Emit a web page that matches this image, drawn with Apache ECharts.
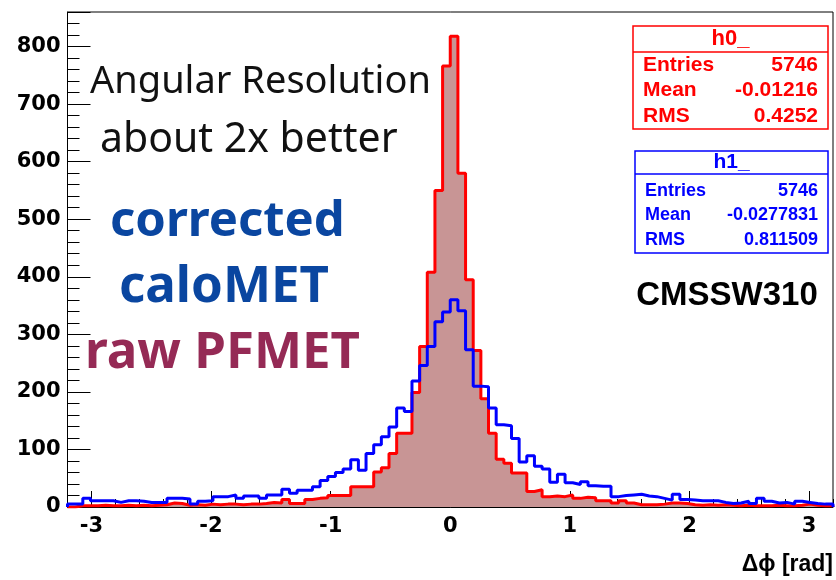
<!DOCTYPE html>
<html><head><meta charset="utf-8">
<script src="https://cdn.jsdelivr.net/npm/echarts@6/dist/echarts.min.js"></script>
<style>html,body{margin:0;padding:0;background:#fff;}#c{width:836px;height:580px;}</style>
</head><body><div id="c"></div>
<script>
// Histogram definition
const X_MIN = -3.2, X_MAX = 3.2, N_BINS = 100;
const Y_MAX = 860;
const xTickLabels = [-3, -2, -1, 0, 1, 2, 3];
const yTickLabels = [0, 100, 200, 300, 400, 500, 600, 700, 800];

// h0_ : raw PFMET (red, filled)
const h0 = [
  0, 2, 2, 2, 3, 2, 2, 3, 2, 3,
  2, 3, 4, 7, 6, 3, 4, 3, 5, 4,
  5, 5, 4, 5, 5, 6, 8, 7, 13, 6,
  6, 13, 15, 16, 20, 20, 20, 35, 35, 35,
  61, 68, 93, 128, 128, 199, 279, 408, 550, 766,
  818, 580, 395, 272, 188, 128, 83, 76, 59, 59,
  27, 30, 18, 19, 18, 21, 15, 17, 16, 11,
  11, 7, 11, 7, 4, 4, 4, 5, 7, 7,
  6, 4, 3, 4, 3, 4, 3, 2, 3, 2,
  2, 2, 3, 2, 2, 3, 5, 3, 2, 2
];
// h1_ : corrected caloMET (blue, outline)
const h1 = [
  5, 5, 15, 11, 11, 11, 8, 11, 11, 10,
  8, 8, 8, 15, 15, 14, 5, 10, 11, 18,
  18, 21, 15, 19, 19, 15, 21, 21, 31, 24,
  29, 29, 35, 46, 53, 60, 66, 82, 64, 93,
  108, 122, 139, 172, 166, 219, 246, 279, 322, 339,
  360, 341, 273, 210, 209, 172, 143, 141, 119, 78,
  89, 71, 66, 43, 57, 42, 39, 44, 37, 36,
  36, 18, 20, 21, 22, 19, 18, 15, 12, 22,
  13, 12, 11, 11, 11, 8, 6, 7, 10, 6,
  15, 10, 7, 8, 5, 10, 8, 6, 5, 5
];
const stats0 = {title: 'h0_', rows: [['Entries', '5746'], ['Mean', '-0.01216'], ['RMS', '0.4252']]};
const stats1 = {title: 'h1_', rows: [['Entries', '5746'], ['Mean', '-0.0277831'], ['RMS', '0.811509']]};

function stepData(vals) {
  const w = (X_MAX - X_MIN) / N_BINS;
  const pts = [[X_MIN, 0]];
  vals.forEach((v, i) => pts.push([X_MIN + i * w, v]));
  pts.push([X_MAX, vals[vals.length - 1]]);
  pts.push([X_MAX, 0]);
  return pts;
}

const PL = 67.5, PR = 833, W = 836;
const unit = (PR - PL) / (X_MAX - X_MIN);
const off = (xTickLabels[0] - X_MIN) * unit;
const tickFont = {fontFamily: 'DejaVu Sans', fontWeight: 'bold', fontSize: 21, color: '#000'};

function statsBox(s, x, y, w, h, sepY, rowYs, color, fs, titleFs) {
  const els = [
    {type: 'rect', shape: {x: x, y: y, width: w, height: h}, style: {fill: '#fff', stroke: color, lineWidth: 1.5}, z: 10},
    {type: 'line', shape: {x1: x, y1: sepY, x2: x + w, y2: sepY}, style: {stroke: color, lineWidth: 1.5}, z: 11},
    {type: 'text', x: x + w / 2, y: (y + sepY) / 2, style: {text: s.title, fill: color, font: 'bold ' + titleFs + 'px "Liberation Sans", Arial', textAlign: 'center', textVerticalAlign: 'middle'}, z: 11}
  ];
  s.rows.forEach((r, i) => {
    els.push({type: 'text', x: x + 10, y: rowYs[i], style: {text: r[0], fill: color, font: 'bold ' + fs + 'px "Liberation Sans", Arial', textAlign: 'left', textVerticalAlign: 'middle'}, z: 11});
    els.push({type: 'text', x: x + w - 10, y: rowYs[i], style: {text: r[1], fill: color, font: 'bold ' + fs + 'px "Liberation Sans", Arial', textAlign: 'right', textVerticalAlign: 'middle'}, z: 11});
  });
  return els;
}

const chart = echarts.init(document.getElementById('c'), null, {renderer: 'canvas'});
chart.setOption({
  animation: false,
  backgroundColor: '#fff',
  grid: [
    {left: PL, right: W - PR, top: 12, bottom: 73, show: true, borderColor: '#000', borderWidth: 1, backgroundColor: 'transparent'},
    {left: PL + off, right: W - PR + off, top: 12, bottom: 73, show: false}
  ],
  xAxis: [
    {type: 'value', gridIndex: 0, min: X_MIN, max: X_MAX, interval: 0.2, position: 'bottom',
     axisLine: {show: true, onZero: false, lineStyle: {color: '#000', width: 1}},
     axisTick: {show: true, inside: true, length: 8, lineStyle: {color: '#000'}},
     axisLabel: {show: false}, splitLine: {show: false}},
    {type: 'value', gridIndex: 1, min: xTickLabels[0], max: xTickLabels[xTickLabels.length - 1], interval: 1, position: 'bottom',
     axisLine: {show: false, onZero: false},
     axisTick: {show: true, inside: true, length: 16, lineStyle: {color: '#000'}},
     axisLabel: Object.assign({show: true, margin: 9, formatter: v => String(v)}, tickFont),
     splitLine: {show: false}}
  ],
  yAxis: [
    {type: 'value', gridIndex: 0, min: 0, max: Y_MAX, interval: 100, position: 'left',
     axisLine: {show: true, onZero: false, lineStyle: {color: '#000', width: 1}},
     axisTick: {show: true, inside: true, length: 23, lineStyle: {color: '#000'}},
     minorTick: {show: true, splitNumber: 5, length: 12, lineStyle: {color: '#000'}},
     axisLabel: Object.assign({show: true, margin: 7, showMaxLabel: false,
       formatter: v => (yTickLabels.indexOf(v) >= 0 ? String(v) : '')}, tickFont),
     splitLine: {show: false}},
    {type: 'value', gridIndex: 1, min: 0, max: Y_MAX, show: false, axisLine: {show: false, onZero: false}}
  ],
  series: [
    {type: 'line', name: 'h0_', xAxisIndex: 0, yAxisIndex: 0, data: stepData(h0), step: 'end', symbol: 'none',
     lineStyle: {color: '#ff0000', width: 3}, areaStyle: {color: '#c89595', opacity: 1}, z: 3},
    {type: 'line', name: 'h1_', xAxisIndex: 0, yAxisIndex: 0, data: stepData(h1), step: 'end', symbol: 'none',
     lineStyle: {color: '#0000ff', width: 3}, z: 4}
  ],
  graphic: [].concat(
    statsBox(stats0, 633, 26, 195, 103, 52, [65, 90, 116], '#ff0000', 21, 22),
    statsBox(stats1, 635, 151, 193, 102, 174, [191, 215, 240], '#0000ff', 18, 21),
    [
      {type: 'text', x: 727, y: 296, style: {text: 'CMSSW310', fill: '#000', font: 'bold 33px "Liberation Sans", Arial', textAlign: 'center', textVerticalAlign: 'middle'}, z: 11},
      {type: 'text', x: 833, y: 565, style: {text: 'Δϕ [rad]', fill: '#000', font: 'bold 23px "Liberation Sans", Arial', textAlign: 'right', textVerticalAlign: 'middle'}, z: 11},
      {type: 'text', x: 90, y: 82, style: {text: 'Angular Resolution', fill: '#111', font: '38px "Noto Sans"', textAlign: 'left', textVerticalAlign: 'middle'}, z: 11},
      {type: 'text', x: 100, y: 140, style: {text: 'about 2x better', fill: '#111', font: '41px "Noto Sans"', textAlign: 'left', textVerticalAlign: 'middle'}, z: 11},
      {type: 'text', x: 110, y: 222, style: {text: 'corrected', fill: '#0a46a0', font: 'bold 49px "Noto Sans"', textAlign: 'left', textVerticalAlign: 'middle'}, z: 11},
      {type: 'text', x: 119, y: 287, style: {text: 'caloMET', fill: '#0a46a0', font: 'bold 51px "Noto Sans"', textAlign: 'left', textVerticalAlign: 'middle'}, z: 11},
      {type: 'text', x: 85, y: 353, style: {text: 'raw PFMET', fill: '#952a55', font: 'bold 51px "Noto Sans"', textAlign: 'left', textVerticalAlign: 'middle'}, z: 11}
    ]
  )
});
</script>
</body></html>
